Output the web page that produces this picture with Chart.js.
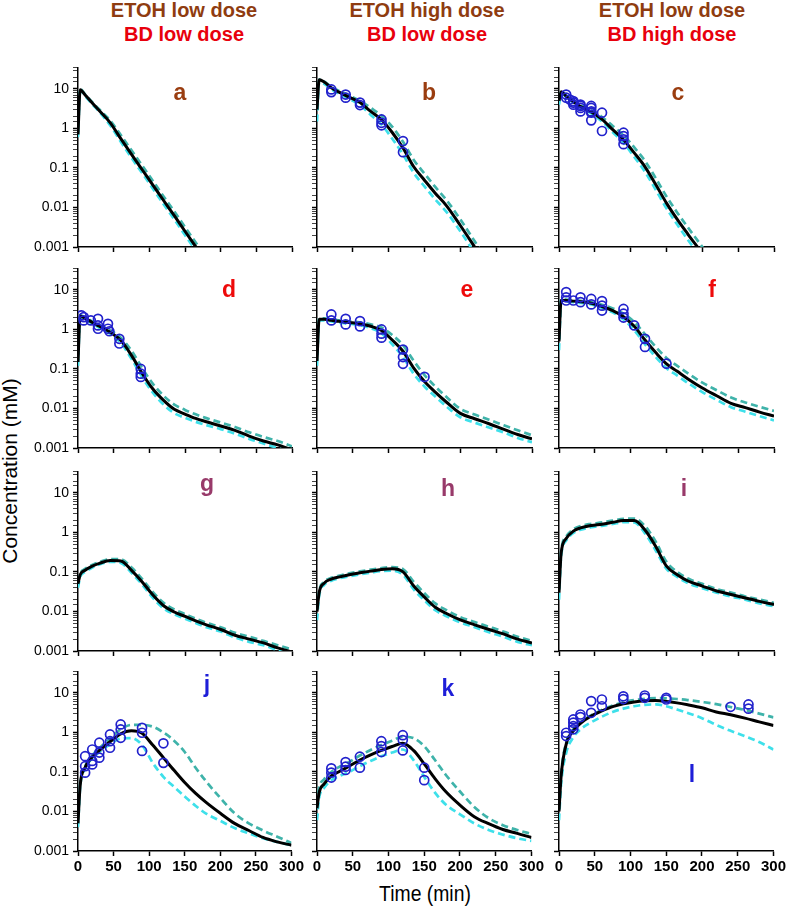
<!DOCTYPE html>
<html>
<head>
<meta charset="utf-8">
<script src="https://cdn.jsdelivr.net/npm/chart.js@4.4.1/dist/chart.umd.min.js"></script>
<style>
  body { margin: 0; background: #fff; }
  #wrap { position: relative; width: 787px; height: 913px; overflow: hidden; font-family: 'Liberation Sans', Arial, sans-serif; }
  #wrap canvas { position: absolute; }
  .txt { position: absolute; white-space: nowrap; }
  .hd { font-weight: bold; font-size: 20px; line-height: 20px; transform: translateX(-50%); }
  .lt { font-weight: bold; font-size: 23px; line-height: 23px; transform: translateX(-50%); }
</style>
</head>
<body>
<div id="wrap">
  <div class="txt hd" style="left:184px;top:0px;color:#8f3c10">ETOH low dose</div>
  <div class="txt hd" style="left:184px;top:24px;color:#e8000c">BD low dose</div>
  <div class="txt hd" style="left:427px;top:0px;color:#8f3c10">ETOH high dose</div>
  <div class="txt hd" style="left:427px;top:24px;color:#e8000c">BD low dose</div>
  <div class="txt hd" style="left:672px;top:0px;color:#8f3c10">ETOH low dose</div>
  <div class="txt hd" style="left:672px;top:24px;color:#e8000c">BD high dose</div>
  <div class="txt" style="left:10px;top:471px;font-size:21px;transform:translate(-50%,-50%) rotate(-90deg)">Concentration (mM)</div>
  <div class="txt" style="left:425px;top:883px;font-size:22px;line-height:22px;transform:translateX(-50%) scaleX(0.88)">Time (min)</div>
</div>
<script>
// model time grid (min)
const time = [0, 3, 10, 20, 30, 45, 60, 75, 90, 105, 120, 135, 150, 165, 180, 200, 220, 240, 260, 280, 300];

// fitted curves: black = fit, hi = upper dashed, lo = lower dashed
const aFit  = [0.7, 9.5, 7.0, 4.4, 2.8, 1.4, 0.55, 0.22, 0.09, 0.037, 0.015, 0.0062, 0.0025, 0.00102, 0.00042, 0.00013, null, null, null, null, null];
const aHigh = [0.8, 9.8, 7.3, 4.6, 3.0, 1.6, 0.68, 0.28, 0.115, 0.047, 0.019, 0.0079, 0.0032, 0.0013, 0.00054, 0.00017, null, null, null, null, null];
const aLow  = [0.6, 9.0, 6.6, 4.1, 2.6, 1.2, 0.46, 0.18, 0.074, 0.03, 0.012, 0.005, 0.002, 0.00082, 0.00034, 0.0001, null, null, null, null, null];

const bFit  = [3, 17, 15, 10.7, 8.4, 6.2, 4.5, 2.7, 1.66, 0.79, 0.32, 0.107, 0.049, 0.023, 0.0115, 0.0035, 0.001, 0.00028, null, null, null];
const bHigh = [3.5, 17.5, 15.5, 11.2, 9.0, 6.8, 5.0, 3.3, 2.1, 1.1, 0.46, 0.16, 0.072, 0.033, 0.016, 0.005, 0.0014, 0.0004, null, null, null];
const bLow  = [1.5, 15, 13.5, 9.8, 7.7, 5.6, 3.9, 2.2, 1.25, 0.55, 0.22, 0.075, 0.034, 0.016, 0.008, 0.0025, 0.0007, 0.0002, null, null, null];

const cFit  = [5, 8.5, 6.5, 4.7, 3.6, 2.6, 1.69, 0.93, 0.52, 0.24, 0.107, 0.038, 0.0129, 0.005, 0.0021, 0.00068, 0.00021, null, null, null, null];
const cHigh = [5.5, 8.8, 6.8, 5.0, 3.9, 2.9, 1.95, 1.15, 0.68, 0.33, 0.15, 0.055, 0.019, 0.0074, 0.0031, 0.001, 0.00031, null, null, null, null];
const cLow  = [4, 8.0, 6.2, 4.5, 3.4, 2.4, 1.5, 0.8, 0.43, 0.19, 0.08, 0.028, 0.0095, 0.0037, 0.0015, 0.0005, 0.00015, null, null, null, null];

const dFit  = [0.15, 2.2, 1.9, 1.5, 1.2, 0.85, 0.53, 0.22, 0.077, 0.031, 0.016, 0.0095, 0.0072, 0.0056, 0.0046, 0.0036, 0.0028, 0.002, 0.0015, 0.0012, 0.0009];
const dHigh = [0.17, 2.3, 2.0, 1.6, 1.3, 0.95, 0.62, 0.29, 0.105, 0.042, 0.021, 0.0125, 0.0092, 0.0071, 0.0057, 0.0044, 0.0034, 0.0025, 0.0019, 0.0015, 0.0011];
const dLow  = [0.12, 2.0, 1.8, 1.4, 1.1, 0.78, 0.46, 0.18, 0.062, 0.025, 0.0125, 0.0076, 0.0058, 0.0046, 0.0038, 0.003, 0.0023, 0.0017, 0.0013, 0.001, 0.0008];

const eFit  = [0.16, 1.8, 1.8, 1.7, 1.6, 1.5, 1.39, 1.2, 0.94, 0.54, 0.28, 0.105, 0.048, 0.026, 0.0148, 0.0075, 0.0055, 0.0041, 0.003, 0.0022, 0.0017];
const eHigh = [0.18, 1.9, 1.9, 1.8, 1.7, 1.6, 1.5, 1.35, 1.12, 0.72, 0.4, 0.16, 0.07, 0.036, 0.02, 0.0098, 0.007, 0.0052, 0.0038, 0.0028, 0.0021];
const eLow  = [0.12, 1.7, 1.7, 1.6, 1.5, 1.4, 1.28, 1.08, 0.8, 0.42, 0.2, 0.075, 0.036, 0.02, 0.0115, 0.006, 0.0044, 0.0033, 0.0025, 0.0018, 0.0014];

const fFit  = [0.5, 5.5, 5.4, 5.2, 5.0, 4.6, 3.8, 3.0, 2.1, 1.2, 0.54, 0.26, 0.135, 0.087, 0.056, 0.033, 0.021, 0.0135, 0.0105, 0.0081, 0.0064];
const fHigh = [0.55, 5.8, 5.7, 5.5, 5.3, 4.9, 4.2, 3.4, 2.5, 1.55, 0.75, 0.36, 0.19, 0.12, 0.077, 0.045, 0.029, 0.019, 0.0142, 0.011, 0.0087];
const fLow  = [0.3, 5.2, 5.1, 4.9, 4.7, 4.3, 3.5, 2.7, 1.8, 0.95, 0.42, 0.2, 0.105, 0.068, 0.044, 0.026, 0.0165, 0.0108, 0.0083, 0.0064, 0.005];

const gFit  = [0.05, 0.085, 0.11, 0.14, 0.165, 0.195, 0.19, 0.11, 0.056, 0.026, 0.014, 0.0097, 0.0075, 0.0058, 0.0046, 0.0035, 0.0025, 0.002, 0.0016, 0.0012, 0.00095];
const gHigh = [0.055, 0.09, 0.12, 0.15, 0.18, 0.21, 0.21, 0.13, 0.066, 0.031, 0.0165, 0.0112, 0.0086, 0.0066, 0.0052, 0.004, 0.0029, 0.0023, 0.0018, 0.0014, 0.0011];
const gLow  = [0.04, 0.075, 0.1, 0.13, 0.155, 0.18, 0.17, 0.095, 0.048, 0.022, 0.012, 0.0085, 0.0066, 0.0051, 0.004, 0.0031, 0.0022, 0.0017, 0.0014, 0.00105, 0.00083];

const hFit  = [0.01, 0.03, 0.052, 0.066, 0.074, 0.085, 0.095, 0.105, 0.115, 0.12, 0.1, 0.044, 0.023, 0.0128, 0.009, 0.0061, 0.0046, 0.0035, 0.0027, 0.002, 0.0016];
const hHigh = [0.011, 0.033, 0.056, 0.071, 0.08, 0.092, 0.103, 0.114, 0.125, 0.132, 0.118, 0.056, 0.029, 0.016, 0.011, 0.0072, 0.0054, 0.0041, 0.0031, 0.0023, 0.0018];
const hLow  = [0.006, 0.025, 0.047, 0.06, 0.068, 0.078, 0.087, 0.096, 0.105, 0.108, 0.085, 0.036, 0.019, 0.0108, 0.0077, 0.0053, 0.004, 0.003, 0.0023, 0.0017, 0.0014];

const iFit  = [0.03, 0.3, 0.7, 1.08, 1.3, 1.5, 1.62, 1.8, 2.0, 2.0, 1.15, 0.44, 0.14, 0.085, 0.059, 0.044, 0.033, 0.027, 0.022, 0.018, 0.015];
const iHigh = [0.035, 0.33, 0.78, 1.2, 1.45, 1.65, 1.8, 2.0, 2.2, 2.25, 1.45, 0.58, 0.18, 0.1, 0.068, 0.05, 0.037, 0.03, 0.024, 0.02, 0.0165];
const iLow  = [0.02, 0.25, 0.62, 0.97, 1.17, 1.35, 1.47, 1.63, 1.82, 1.8, 0.95, 0.35, 0.12, 0.075, 0.052, 0.039, 0.03, 0.024, 0.02, 0.016, 0.0135];

const jFit  = [0.005, 0.045, 0.13, 0.24, 0.35, 0.58, 0.92, 1.1, 0.95, 0.48, 0.23, 0.11, 0.054, 0.029, 0.017, 0.009, 0.005, 0.0033, 0.0022, 0.0017, 0.0014];
const jHigh = [0.006, 0.05, 0.14, 0.26, 0.4, 0.7, 1.2, 1.55, 1.55, 1.4, 1.0, 0.62, 0.32, 0.13, 0.058, 0.022, 0.009, 0.005, 0.0033, 0.0023, 0.0016];
const jLow  = [0.004, 0.04, 0.12, 0.22, 0.32, 0.5, 0.7, 0.72, 0.48, 0.17, 0.075, 0.042, 0.024, 0.014, 0.0088, 0.0058, 0.0038, 0.0028, 0.0021, 0.0017, 0.0014];

const kFit  = [0.012, 0.03, 0.05, 0.08, 0.1, 0.14, 0.2, 0.27, 0.35, 0.44, 0.53, 0.35, 0.16, 0.068, 0.032, 0.0145, 0.0074, 0.0049, 0.0035, 0.0028, 0.0022];
const kHigh = [0.015, 0.04, 0.065, 0.1, 0.13, 0.18, 0.26, 0.36, 0.48, 0.62, 0.78, 0.72, 0.45, 0.2, 0.085, 0.032, 0.013, 0.0068, 0.0045, 0.0034, 0.0027];
const kLow  = [0.006, 0.022, 0.04, 0.062, 0.077, 0.1, 0.14, 0.19, 0.25, 0.31, 0.37, 0.2, 0.075, 0.03, 0.015, 0.0085, 0.005, 0.0034, 0.0026, 0.0021, 0.0018];

const lFit  = [0.01, 0.08, 0.5, 1.1, 1.7, 2.6, 3.5, 4.5, 5.3, 5.9, 6.3, 6.4, 6.1, 5.6, 5.0, 4.2, 3.3, 2.8, 2.3, 1.85, 1.5];
const lHigh = [0.012, 0.09, 0.55, 1.2, 1.8, 2.7, 3.7, 4.8, 5.8, 6.6, 7.1, 7.4, 7.3, 7.0, 6.6, 5.9, 5.2, 4.4, 3.7, 3.0, 2.4];
const lLow  = [0.006, 0.05, 0.3, 0.75, 1.2, 1.8, 2.5, 3.3, 4.0, 4.6, 5.0, 5.1, 4.6, 3.8, 3.1, 2.3, 1.55, 1.1, 0.8, 0.57, 0.37];

// measured data (open circles): time, concentration
const bObsT = [20, 20, 40, 40, 60, 60, 90, 90, 90, 120, 120];
const bObsC = [9.7, 8.3, 7.2, 6.0, 4.5, 3.9, 1.69, 1.39, 1.2, 0.48, 0.25];
const cObsT = [10, 10, 15, 20, 20, 20, 30, 30, 30, 30, 45, 45, 45, 45, 45, 60, 60, 90, 90, 90, 90];
const cObsC = [7.2, 6.0, 5.4, 4.9, 4.5, 4.0, 4.0, 3.7, 3.3, 2.7, 3.7, 3.3, 2.7, 2.5, 1.6, 2.5, 0.86, 0.78, 0.64, 0.53, 0.4];
const dObsT = [5, 8, 8, 18, 28, 28, 28, 42, 42, 44, 58, 58, 88, 88, 88];
const dObsC = [2.26, 1.69, 2.05, 1.69, 1.86, 1.26, 1.04, 1.39, 1.04, 0.9, 0.58, 0.44, 0.1, 0.076, 0.063];
const eObsT = [20, 20, 40, 40, 60, 60, 90, 90, 90, 120, 120, 120, 150];
const eObsC = [2.39, 1.69, 1.86, 1.34, 1.62, 1.19, 1.0, 0.78, 0.62, 0.31, 0.2, 0.135, 0.063];
const fObsT = [10, 10, 10, 20, 30, 30, 45, 45, 60, 60, 60, 90, 90, 90, 105, 120, 120, 150];
const fObsC = [8.8, 6.5, 5.4, 5.4, 6.5, 4.9, 5.9, 4.3, 5.2, 4.0, 3.0, 3.3, 2.5, 2.0, 1.26, 0.58, 0.36, 0.136];
const jObsT = [10, 10, 10, 20, 20, 20, 30, 30, 30, 45, 45, 45, 60, 60, 60, 90, 90, 90, 120, 120];
const jObsC = [0.25, 0.14, 0.096, 0.37, 0.19, 0.155, 0.55, 0.31, 0.23, 0.89, 0.6, 0.41, 1.59, 1.19, 0.73, 1.31, 0.98, 0.34, 0.53, 0.17];
const kObsT = [20, 20, 20, 40, 40, 40, 60, 60, 90, 90, 90, 120, 120, 120, 150, 150];
const kObsC = [0.123, 0.096, 0.072, 0.178, 0.136, 0.112, 0.243, 0.128, 0.6, 0.45, 0.32, 0.85, 0.64, 0.35, 0.128, 0.062];
const lObsT = [10, 10, 20, 20, 20, 20, 30, 30, 45, 45, 60, 60, 90, 90, 120, 120, 150, 150, 240, 265, 265];
const lObsC = [0.98, 0.81, 2.13, 1.76, 1.44, 1.2, 2.84, 2.45, 6.2, 3.14, 6.8, 4.6, 8.2, 7.0, 8.6, 7.5, 7.5, 6.8, 4.45, 5.1, 4.0];

const xTicks = [0, 50, 100, 150, 200, 250, 300];
const yTickLabels = ['0.001', '0.01', '0.1', '1', '10'];
const panelLetters = ['a', 'b', 'c', 'd', 'e', 'f', 'g', 'h', 'i', 'j', 'k', 'l'];

const brown = '#9a3d10', red = '#ee0a0a', plum = '#983a6a', blue = '#1e1ed8';
const panels = [
  { fit: aFit, hi: aHigh, lo: aLow, color: brown },
  { fit: bFit, hi: bHigh, lo: bLow, obsT: bObsT, obsC: bObsC, color: brown },
  { fit: cFit, hi: cHigh, lo: cLow, obsT: cObsT, obsC: cObsC, color: brown },
  { fit: dFit, hi: dHigh, lo: dLow, obsT: dObsT, obsC: dObsC, color: red },
  { fit: eFit, hi: eHigh, lo: eLow, obsT: eObsT, obsC: eObsC, color: red },
  { fit: fFit, hi: fHigh, lo: fLow, obsT: fObsT, obsC: fObsC, color: red },
  { fit: gFit, hi: gHigh, lo: gLow, color: plum },
  { fit: hFit, hi: hHigh, lo: hLow, color: plum },
  { fit: iFit, hi: iHigh, lo: iLow, color: plum },
  { fit: jFit, hi: jHigh, lo: jLow, obsT: jObsT, obsC: jObsC, color: blue },
  { fit: kFit, hi: kHigh, lo: kLow, obsT: kObsT, obsC: kObsC, color: blue },
  { fit: lFit, hi: lHigh, lo: lLow, obsT: lObsT, obsC: lObsC, color: blue }
];

// page layout
const colX = [78, 317, 559];
const colW = [214, 215, 215];
const rowBottom = [247, 448, 651, 851];
const plotH = 180;
const LEFT_W = 60, RIGHT_PAD = 14, TOP_PAD = 12, BOTTOM_H = 30;
// letter anchors: centre x, baseline y
const letterPos = [[180, 101], [429, 101], [678, 101], [229, 298], [467, 298], [712, 298],
                   [207, 492], [448, 497], [684, 497], [207, 693], [448, 697], [692, 783]];

const wrap = document.getElementById('wrap');
const isDecade = v => Math.abs(Math.log10(v) - Math.round(Math.log10(v))) < 1e-6;

panels.forEach((p, i) => {
  const col = i % 3, row = Math.floor(i / 3);
  const W = LEFT_W + colW[col] + RIGHT_PAD, H = TOP_PAD + plotH + BOTTOM_H;
  const cv = document.createElement('canvas');
  cv.width = W; cv.height = H;
  cv.style.width = W + 'px'; cv.style.height = H + 'px';
  cv.style.left = (colX[col] - LEFT_W) + 'px';
  cv.style.top = (rowBottom[row] - plotH - TOP_PAD) + 'px';
  wrap.appendChild(cv);

  const curve = vals => time.map((t, k) => ({ x: t, y: vals[k] }));
  const datasets = [];
  if (p.obsT) {
    datasets.push({
      data: p.obsT.map((t, k) => ({ x: t, y: p.obsC[k] })),
      showLine: false, pointRadius: 4.5, pointBorderWidth: 1.7,
      pointBorderColor: '#2222cc', pointBackgroundColor: 'rgba(0,0,0,0)', borderColor: '#2222cc'
    });
  }
  datasets.push({ data: curve(p.fit), borderColor: '#000', borderWidth: 3, pointRadius: 0, cubicInterpolationMode: 'monotone' });
  datasets.push({ data: curve(p.hi), borderColor: '#3fb3aa', borderWidth: 2.7, borderDash: [7, 4], pointRadius: 0, cubicInterpolationMode: 'monotone' });
  datasets.push({ data: curve(p.lo), borderColor: '#3ee0ea', borderWidth: 2.7, borderDash: [7, 4], pointRadius: 0, cubicInterpolationMode: 'monotone' });

  new Chart(cv, {
    type: 'line',
    data: { datasets },
    options: {
      responsive: false,
      animation: false,
      events: [],
      layout: { padding: { top: TOP_PAD, right: RIGHT_PAD, left: 0, bottom: 0 } },
      plugins: { legend: { display: false }, tooltip: { enabled: false } },
      scales: {
        x: {
          type: 'linear', min: 0, max: 300,
          afterFit: s => { s.height = BOTTOM_H; },
          afterBuildTicks: s => { s.ticks = xTicks.map(v => ({ value: v })); },
          ticks: {
            autoSkip: false, maxRotation: 0, padding: 2, color: '#000',
            font: { size: 15, weight: 'bold', family: "'Liberation Sans Narrow', 'Liberation Sans', Arial, sans-serif" },
            callback: v => row === 3 ? String(v) : ''
          },
          grid: { drawOnChartArea: false, tickLength: 5, color: '#000', tickWidth: 1.5 },
          border: { color: '#000', width: 1.5 }
        },
        y: {
          type: 'logarithmic', min: 0.001, max: 35,
          afterFit: s => { s.width = LEFT_W; },
          ticks: {
            autoSkip: false, padding: 4, color: '#000',
            font: { size: 14, family: "'Liberation Sans', Arial, sans-serif" },
            callback: v => (col === 0 && isDecade(v)) ? yTickLabels[Math.round(Math.log10(v)) + 3] : ''
          },
          grid: {
            drawOnChartArea: false, tickLength: 5, color: '#000',
            tickColor: c => (c.tick && isDecade(c.tick.value)) ? '#000' : '#444',
            tickWidth: c => (c.tick && isDecade(c.tick.value)) ? 1.5 : 1
          },
          border: { color: '#000', width: 1.5 }
        }
      }
    }
  });

  const lt = document.createElement('div');
  lt.className = 'txt lt';
  lt.textContent = panelLetters[i];
  lt.style.color = p.color;
  lt.style.left = letterPos[i][0] + 'px';
  lt.style.top = (letterPos[i][1] - 20) + 'px';
  wrap.appendChild(lt);
});
</script>
</body>
</html>
